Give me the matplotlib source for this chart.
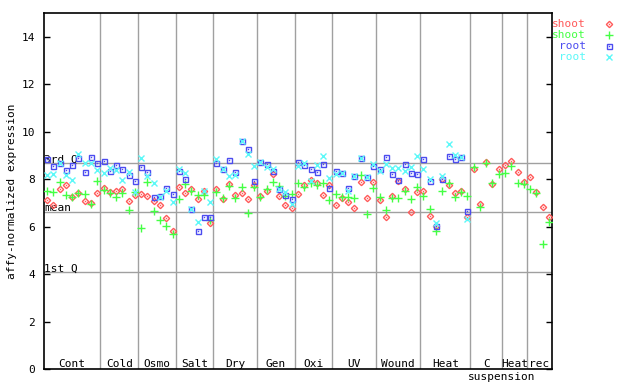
"""
Expression scatter per sample, grouped by stress treatment.
Shoot / root, two probes each, with quartile and mean lines.
"""
import numpy as np
import matplotlib
matplotlib.use('Agg')
import matplotlib.pyplot as plt


# groups along x
GROUP_LABELS = ['Cont', 'Cold', 'Osmo', 'Salt', 'Dry', 'Gen', 'Oxi',
                'UV', 'Wound', 'Heat', 'C', 'Heat', 'rec']
GROUP_SIZES = [9, 6, 6, 6, 7, 6, 6, 7, 7, 8, 5, 4, 4]

# summary lines
Q3_VAL = 8.67
MEAN_VAL = 6.60
Q1_VAL = 4.07

shoot_a = [7.12, 6.91, 7.57, 7.77, 7.25, 7.40, 7.07, 6.98, 7.42,
           7.64, 7.44, 7.49, 7.57, 7.07, 7.35,
           7.37, 7.29, 7.07, 6.90, 6.35, 5.81,
           7.66, 7.40, 7.57, 7.15, 7.49, 6.14,
           7.59, 7.15, 7.78, 7.33, 7.40, 7.16, 7.75,
           7.28, 7.50, 8.22, 7.30, 6.90, 6.77,
           7.36, 7.74, 7.96, 7.82, 7.32, 7.76,
           6.90, 7.19, 7.02, 6.77, 7.90, 7.19, 7.87,
           7.11, 6.39, 7.28, 7.91, 7.57, 6.60, 7.44,
           7.49, 6.43, 6.01, 7.99, 7.74, 7.40, 7.49, 6.39,
           8.42, 6.95, 8.71, 7.78, 8.42,
           8.58, 8.75, 8.29, 7.87,
           8.08, 7.44, 6.81, 6.39]

shoot_b = [7.48, 7.45, 7.87, 7.32, 7.25, 7.40, 7.37, 6.94, 7.93,
           7.53, 7.40, 7.24, 7.40, 6.70, 7.47,
           5.93, 7.90, 6.65, 6.27, 6.01, 5.68,
           7.15, 7.78, 7.52, 7.32, 7.32, 6.29,
           7.44, 7.20, 7.70, 7.20, 7.66, 6.56, 7.65,
           7.26, 7.59, 7.87, 7.70, 7.30, 7.36,
           7.82, 7.66, 7.82, 7.74, 7.82, 7.11,
           7.36, 7.24, 7.24, 7.19, 8.16, 6.52, 7.61,
           7.24, 6.69, 7.19, 7.19, 7.51, 7.15, 7.66,
           7.28, 6.73, 5.80, 7.49, 7.82, 7.24, 7.44, 7.28,
           8.50, 6.81, 8.69, 7.82, 8.20,
           8.25, 8.54, 7.82, 7.80,
           7.57, 7.42, 5.26, 6.18]

# root only measured up to the Heat group
root_a = [8.84, 8.55, 8.67, 8.37, 8.58, 8.88, 8.29, 8.92, 8.67,
          8.75, 8.33, 8.58, 8.42, 8.16, 7.91,
          8.50, 8.29, 7.24, 7.28, 7.61, 7.36,
          8.33, 7.99, 6.73, 5.80, 6.39, 6.39,
          8.70, 8.43, 8.79, 8.31, 9.60, 9.26, 7.91,
          8.71, 8.63, 8.33, 7.57, 7.32, 7.18,
          8.71, 8.58, 8.42, 8.29, 8.63, 7.61,
          8.33, 8.25, 7.61, 8.14, 8.88, 8.08, 8.56,
          8.42, 8.92, 8.20, 7.95, 8.63, 8.25, 8.20,
          8.84, 7.91, 6.02, 7.99, 8.96, 8.84, 8.92, 6.64]

root_b = [8.17, 8.23, 8.68, 8.16, 7.95, 9.06, 8.67, 8.67, 8.37,
          8.24, 8.46, 8.37, 7.95, 8.29, 7.47,
          8.88, 8.15, 7.82, 7.24, 7.52, 7.02,
          8.42, 8.25, 6.73, 6.18, 7.50, 7.02,
          8.86, 8.44, 8.12, 8.19, 9.60, 9.05, 8.56,
          8.71, 8.50, 8.44, 7.60, 7.45, 6.97,
          8.54, 8.67, 7.92, 8.60, 8.96, 8.04,
          8.20, 8.25, 7.50, 8.15, 8.88, 8.08, 8.65,
          8.36, 8.63, 8.46, 8.46, 8.33, 8.50, 8.96,
          8.42, 8.02, 6.14, 8.14, 9.47, 9.00, 8.92, 6.33]

SERIES = [('shoot', shoot_a, '#ff5a5a', 'D', 3.2, True),
          ('shoot', shoot_b, '#44ff44', '+', 5.5, False),
          ('root', root_a, '#4c4cf0', 's', 3.6, True),
          ('root', root_b, '#5cf8f8', 'x', 4.0, False)]

plt.rcParams['font.family'] = 'DejaVu Sans Mono'
plt.rcParams['font.size'] = 8

fig = plt.figure(figsize=(6.4, 3.84), dpi=100)
ax = fig.add_axes([44/640, 15/384, 508/640, 356/384])

n_total = sum(GROUP_SIZES)
edges = np.cumsum([0] + GROUP_SIZES)

# grid lines
for e in edges[1:-1]:
    ax.axvline(e, color='#a0a0a0', lw=1, zorder=1)
for val, lab in [(Q3_VAL, '3rd Q'), (MEAN_VAL, 'mean'), (Q1_VAL, '1st Q')]:
    ax.axhline(val, color='#a0a0a0', lw=1, zorder=1)
    ax.text(0.05, val + 0.04, lab, ha='left', va='baseline', zorder=2)

# points
for name, vals, col, mk, ms, dot in SERIES:
    xs = np.arange(len(vals)) + 0.5
    ax.plot(xs, vals, ls='none', marker=mk, ms=ms, mfc='none', mec=col,
            mew=1.0, zorder=3)
    if dot:
        ax.plot(xs, vals, ls='none', marker='s', ms=1.0, mfc=col, mec='none',
                zorder=3)

# group labels inside the bottom of the plot
for lab, lo, hi in zip(GROUP_LABELS, edges[:-1], edges[1:]):
    ax.text((lo + hi) / 2, 0.08, lab, ha='center', va='baseline')
fig.text(502/640, 1 - 377/384, 'suspension', ha='center', va='center')

ax.set_xlim(0, n_total)
ax.set_ylim(0, 15)
ax.set_xticks([])
ax.set_yticks(range(0, 15, 2))
ax.tick_params(axis='y', direction='in', length=4, width=1, pad=6.5,
               right=True, labelright=False)
for sp in ax.spines.values():
    sp.set_linewidth(1.2)

fig.text(12/640, 1 - 191/384, 'affy-normalized expression', rotation=90,
         ha='center', va='center')

# legend outside, top right
leg_y = [24, 35, 46, 57]
for (name, vals, col, mk, ms, dot), yy in zip(SERIES, leg_y):
    yf = 1 - yy/384
    fig.text(586/640, yf, name, color=col, ha='right', va='center')
    ax.plot([609/640], [yf], transform=fig.transFigure, clip_on=False,
            ls='none', marker=mk, ms=ms, mfc='none', mec=col, mew=1.0)
    if dot:
        ax.plot([609/640], [yf], transform=fig.transFigure, clip_on=False,
                ls='none', marker='s', ms=1.0, mfc=col, mec='none')

fig.savefig('out.png', dpi=100)
plt.close()
